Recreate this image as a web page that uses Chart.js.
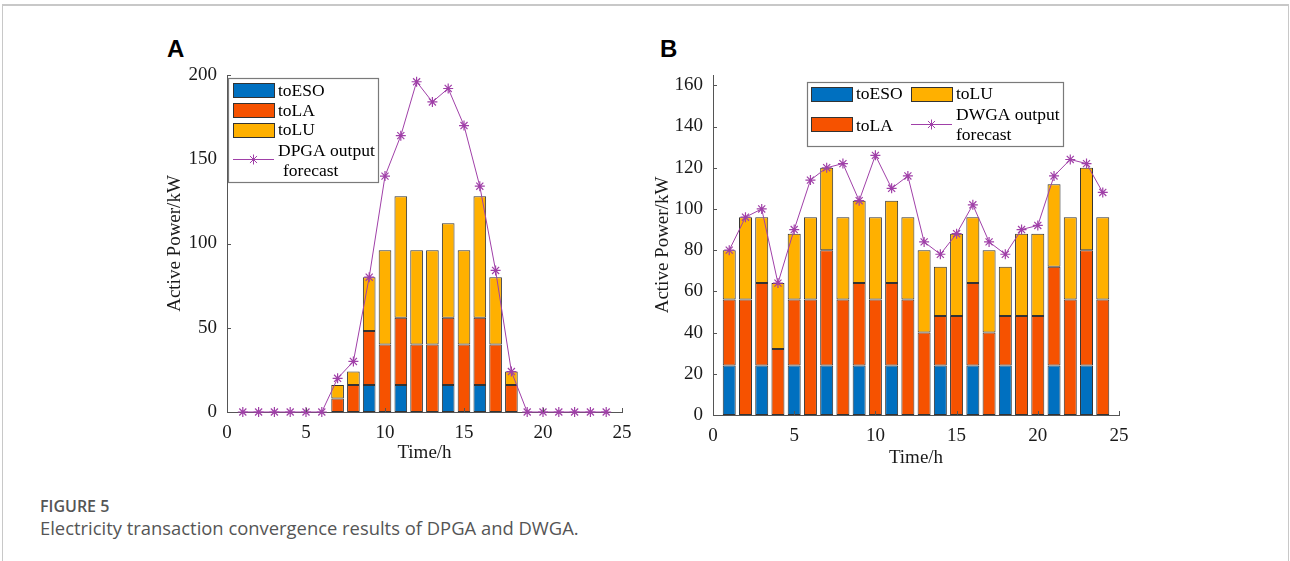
<!DOCTYPE html>
<html><head><meta charset="utf-8">
<script src="https://cdn.jsdelivr.net/npm/chart.js@4/dist/chart.umd.min.js"></script>
<style>
html,body{margin:0;padding:0;background:#fff;width:1290px;height:561px;overflow:hidden;}
#card{position:absolute;left:2px;top:4px;width:1287px;height:600px;border:1px solid #c8c8c8;border-top:2px solid #c8c8c8;box-sizing:border-box;}
.wrap{position:absolute;}
#wa{left:150px;top:50px;width:490px;height:420px;}
#wb{left:640px;top:50px;width:500px;height:430px;}
.lab{position:absolute;font-family:"Liberation Sans",Arial,sans-serif;font-weight:bold;font-size:24px;line-height:24px;color:#000;}
#fig{position:absolute;left:40px;top:496px;font-family:"Open Sans",sans-serif;font-weight:600;font-size:16px;line-height:20px;color:#555;}
#cap{position:absolute;left:40px;top:517px;font-family:"Open Sans",sans-serif;font-size:18.4px;line-height:22px;color:#555;}
</style></head>
<body>
<div id="card"></div>
<div class="lab" style="left:167px;top:37px;">A</div>
<div class="lab" style="left:660px;top:37px;">B</div>
<div class="wrap" id="wa"><canvas id="ca" width="490" height="420"></canvas></div>
<div class="wrap" id="wb"><canvas id="cb" width="500" height="430"></canvas></div>
<div id="fig">FIGURE 5</div>
<div id="cap">Electricity transaction convergence results of DPGA and DWGA.</div>
<script>
// ---------- data ----------
const hours = [1,2,3,4,5,6,7,8,9,10,11,12,13,14,15,16,17,18,19,20,21,22,23,24];
const xTicks = [0,5,10,15,20,25];
const yTicksA = [0,50,100,150,200];
const yTicksB = [0,20,40,60,80,100,120,140,160];

// Panel A (DPGA)
const toESO_A = [0,0,0,0,0,0,0,0,16,0,16,0,0,16,0,16,0,0,0,0,0,0,0,0];
const toLA_A  = [0,0,0,0,0,0,8,16,32,40,40,40,40,40,40,40,40,16,0,0,0,0,0,0];
const toLU_A  = [0,0,0,0,0,0,8,8,32,56,72,56,56,56,56,72,40,8,0,0,0,0,0,0];
const dpgaForecast = [0,0,0,0,0,0,20,30,80,140,164,196,184,192,170,134,84,24,0,0,0,0,0,0];

// Panel B (DWGA)
const toESO_B = [24,0,24,0,24,0,24,0,24,0,24,0,0,24,0,24,0,24,0,0,24,0,24,0];
const toLA_B  = [32,56,40,32,32,56,56,56,40,56,40,56,40,24,48,40,40,24,48,48,48,56,56,56];
const toLU_B  = [24,40,32,32,32,40,40,40,40,40,40,40,40,24,40,32,40,24,40,40,40,40,40,40];
const dwgaForecast = [80,96,100,64,90,114,120,122,104,126,110,116,84,78,88,102,84,78,90,92,116,124,122,108];

// ---------- styles ----------
const C_ESO = '#0070c0', C_LA = '#f65200', C_LU = '#ffb000', C_LINE = '#a040a8', C_EDGE = '#333333';
const FONT = "'Liberation Serif','Times New Roman',serif";
const TXT = '#1a1a1a';

function barDs(label, vals, color) {
  return {
    type: 'bar', label, stack: 's', order: 1,
    data: hours.map((h, i) => ({x: h, y: vals[i] ? vals[i] : null})),
    backgroundColor: color, borderColor: C_EDGE, borderWidth: 1, borderSkipped: false,
    inflateAmount: 0, barPercentage: 0.8, categoryPercentage: 1
  };
}
function lineDs(label, vals) {
  return {
    type: 'line', label, order: 0, clip: false,
    data: hours.map((h, i) => ({x: h, y: vals[i]})),
    borderColor: C_LINE, borderWidth: 1, fill: false, tension: 0,
    pointStyle: 'star', pointRadius: 5, pointBorderColor: C_LINE, pointBorderWidth: 1.2,
    pointBackgroundColor: 'rgba(0,0,0,0)'
  };
}

const axisPlugin = {
  id: 'inTicks',
  afterDatasetsDraw(chart) {
    const ctx = chart.ctx, xs = chart.scales.x, ys = chart.scales.y, a = chart.chartArea;
    ctx.save();
    ctx.strokeStyle = '#555'; ctx.lineWidth = 1;
    ctx.beginPath();
    xs.ticks.forEach(t => { const p = Math.round(xs.getPixelForValue(t.value)) + 0.5; ctx.moveTo(p, a.bottom); ctx.lineTo(p, a.bottom - 4); });
    ys.ticks.forEach(t => { const p = Math.round(ys.getPixelForValue(t.value)) + 0.5; ctx.moveTo(a.left, p); ctx.lineTo(a.left + 4, p); });
    ctx.stroke();
    ctx.restore();
  }
};

const legendPlugin = {
  id: 'boxLegend',
  afterDraw(chart, args, o) {
    const ctx = chart.ctx;
    ctx.save();
    ctx.fillStyle = '#fff';
    ctx.fillRect(o.box[0], o.box[1], o.box[2], o.box[3]);
    ctx.strokeStyle = '#7a7a7a'; ctx.lineWidth = 1.2;
    ctx.strokeRect(o.box[0] + 0.5, o.box[1] + 0.5, o.box[2], o.box[3]);
    ctx.font = "17.5px " + FONT;
    ctx.textBaseline = 'middle'; ctx.textAlign = 'left'; ctx.fillStyle = '#000';
    o.items.forEach(it => {
      const ds = chart.data.datasets[it.ds];
      if (ds.type === 'line') {
        ctx.strokeStyle = ds.borderColor; ctx.lineWidth = 1;
        ctx.beginPath(); ctx.moveTo(it.sw[0], it.sw[1] + 0.5); ctx.lineTo(it.sw[0] + it.sw[2], it.sw[1] + 0.5); ctx.stroke();
        Chart.helpers.drawPoint(ctx, {pointStyle: 'star', radius: 5, borderWidth: 1.2}, it.sw[0] + it.sw[2] / 2, it.sw[1] + 0.5);
      } else {
        ctx.fillStyle = ds.backgroundColor;
        ctx.fillRect(it.sw[0], it.sw[1], it.sw[2], it.sw[3]);
        ctx.strokeStyle = C_EDGE; ctx.lineWidth = 1;
        ctx.strokeRect(it.sw[0] + 0.5, it.sw[1] + 0.5, it.sw[2], it.sw[3]);
      }
      ctx.fillStyle = '#000';
      it.text.forEach(tl => ctx.fillText(tl[0], tl[1], tl[2]));
    });
    ctx.restore();
  }
};

function makeChart(id, dsets, yMax, yTicks, geo, legend) {
  return new Chart(document.getElementById(id), {
    type: 'bar',
    data: {datasets: dsets},
    plugins: [axisPlugin, legendPlugin],
    options: {
      responsive: false, animation: false, devicePixelRatio: 1,
      layout: {padding: {top: geo.padTop, right: geo.padRight, left: 0, bottom: 0}},
      plugins: {legend: {display: false}, tooltip: {enabled: false}, boxLegend: legend},
      scales: {
        x: {
          type: 'linear', min: 0, max: 25, offset: false,
          afterBuildTicks: s => { s.ticks = xTicks.map(v => ({value: v})); },
          afterFit: s => { s.height = geo.xH; s.paddingLeft = 0; s.paddingRight = 0; },
          ticks: {font: {family: FONT, size: 19}, color: TXT, padding: geo.xTickPad, maxRotation: 0, autoSkip: false},
          grid: {display: false, drawTicks: false, offset: false},
          border: {display: true, color: '#555', width: 1},
          title: {display: true, text: 'Time/h', font: {family: FONT, size: 19}, color: TXT, padding: {top: 0, bottom: geo.xTitlePad}}
        },
        y: {
          type: 'linear', min: 0, max: yMax, stacked: true,
          afterBuildTicks: s => { s.ticks = yTicks.map(v => ({value: v})); },
          afterFit: s => { s.width = geo.yW; s.paddingTop = 0; s.paddingBottom = 0; },
          ticks: {font: {family: FONT, size: 19}, color: TXT, padding: 10, autoSkip: false},
          grid: {display: false, drawTicks: false},
          border: {display: true, color: '#555', width: 1},
          title: {display: true, text: 'Active Power/kW', font: {family: FONT, size: 19}, color: TXT, padding: {top: geo.yTitlePad, bottom: 0}}
        }
      }
    }
  });
}

// legend coordinates are canvas-relative (panel A canvas at 150,50; panel B canvas at 640,50)
makeChart('ca',
  [barDs('toESO', toESO_A, C_ESO), barDs('toLA', toLA_A, C_LA), barDs('toLU', toLU_A, C_LU), lineDs('DPGA output forecast', dpgaForecast)],
  200, yTicksA,
  {padTop: 25, padRight: 18, xH: 58, yW: 77, xTickPad: 10, xTitlePad: 5.6, yTitlePad: 13.6},
  {box: [78, 28, 150, 104], items: [
    {ds: 0, sw: [83, 33, 41, 14], text: [['toESO', 128, 41]]},
    {ds: 1, sw: [83, 53, 41, 14], text: [['toLA', 128, 61]]},
    {ds: 2, sw: [83, 73, 41, 14], text: [['toLU', 128, 80]]},
    {ds: 3, sw: [83, 109, 41, 0], text: [['DPGA output', 128, 101], ['forecast', 133, 121]]}
  ]}
);

makeChart('cb',
  [barDs('toESO', toESO_B, C_ESO), barDs('toLA', toLA_B, C_LA), barDs('toLU', toLU_B, C_LU), lineDs('DWGA output forecast', dwgaForecast)],
  165, yTicksB,
  {padTop: 25, padRight: 21, xH: 65, yW: 73, xTickPad: 10, xTitlePad: 10.6, yTitlePad: 11.6},
  {box: [167, 32, 256, 64], items: [
    {ds: 0, sw: [171, 37, 41, 14], text: [['toESO', 216, 44]]},
    {ds: 2, sw: [271, 37, 41, 14], text: [['toLU', 316, 44]]},
    {ds: 1, sw: [171, 67, 41, 14], text: [['toLA', 216, 76]]},
    {ds: 3, sw: [271, 74, 41, 0], text: [['DWGA output', 316, 65], ['forecast', 316, 85]]}
  ]}
);
</script>
</body></html>
